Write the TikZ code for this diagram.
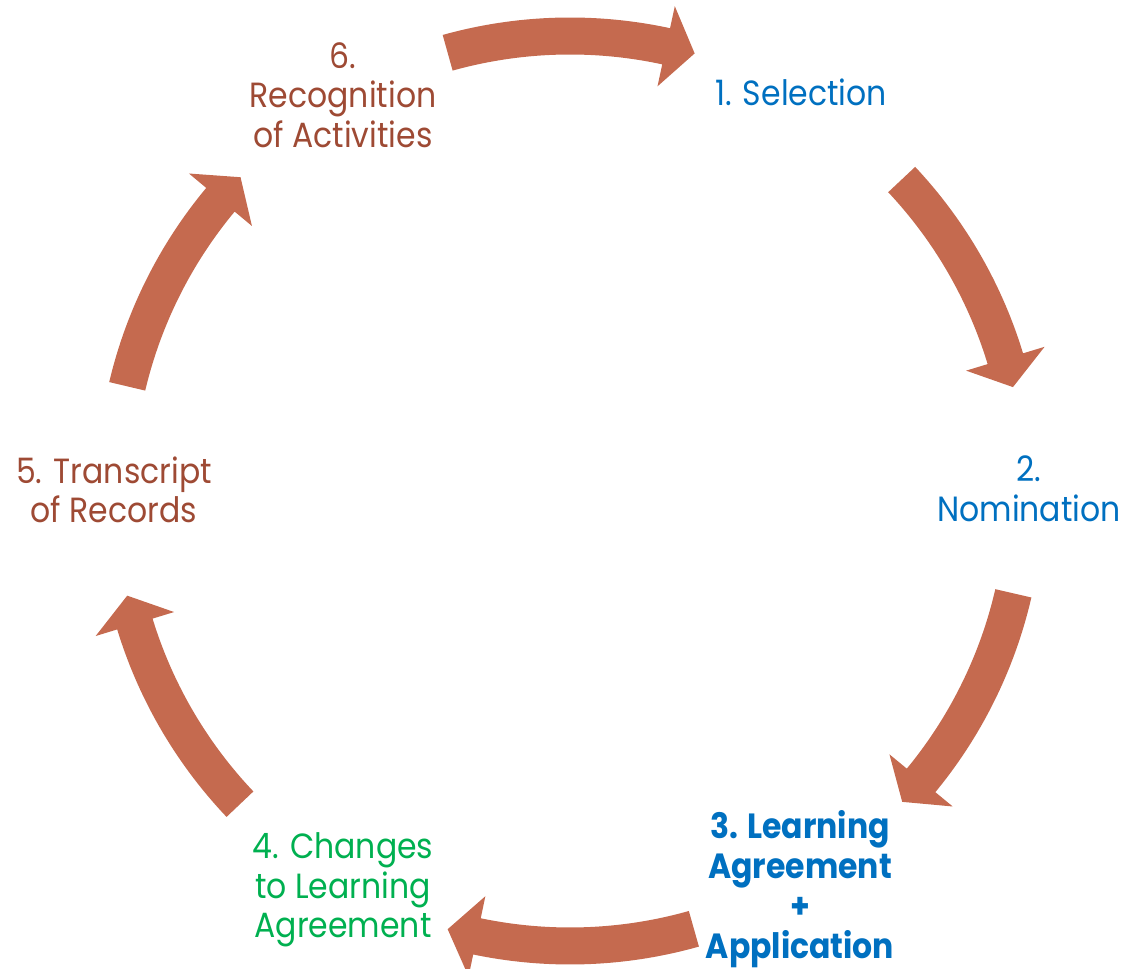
\documentclass[tikz,border=0pt]{standalone}
\usepackage{fontspec}
\setmainfont[FakeStretch=0.9]{Poppins}
\definecolor{arrowfill}{RGB}{197,106,79}
\definecolor{labred}{RGB}{158,74,52}
\definecolor{labblue}{RGB}{0,112,192}
\definecolor{labgreen}{RGB}{0,176,80}
\newcommand\myarrow[3]{%
  \fill[arrowfill] (#1:473.5) arc[start angle=#1, end angle=#2, radius=473.5]
    -- (#2:496) -- (#3:455) -- (#2:414) -- (#2:436.5)
    arc[start angle=#2, end angle=#1, radius=436.5] -- cycle;}
\begin{document}
\begin{tikzpicture}[x=1pt,y=1pt,
  lab/.style={align=center, inner sep=0pt, font=\fontsize{35}{39.5}\selectfont}]
\useasboundingbox (0,0) rectangle (1125,969);
\begin{scope}[shift={(570,478)}]
  \myarrow{105.6}{77.8}{74.1}
  \myarrow{43.2}{16.9}{13.2}
  \myarrow{-13}{-39.5}{-43.1}
  \myarrow{-74.2}{-101.8}{-105.6}
  \myarrow{-136.5}{-163}{-166.7}
  \myarrow{166.7}{140.2}{136.4}
\end{scope}
\node[lab, text=labred] (s6) at (343,{969-95}) {6.\\Recognition\\of Activities};
\node[lab, text=labblue] (s1) at (801,{969-92.5}) {1. Selection};
\node[lab, text=labblue] (s2) at (1029,{969-489}) {2.\\Nomination};
\node[lab, text=labblue, font=\fontsize{35}{40}\selectfont\bfseries] (s3) at (800,{969-889}) {3. Learning\\Agreement\\+\\Application};
\node[lab, text=labgreen] (s4) at (343,{969-890}) {4. Changes\\to Learning\\Agreement};
\node[lab, text=labred] (s5) at (114,{969-490}) {5. Transcript\\of Records};
\end{tikzpicture}
\end{document}
